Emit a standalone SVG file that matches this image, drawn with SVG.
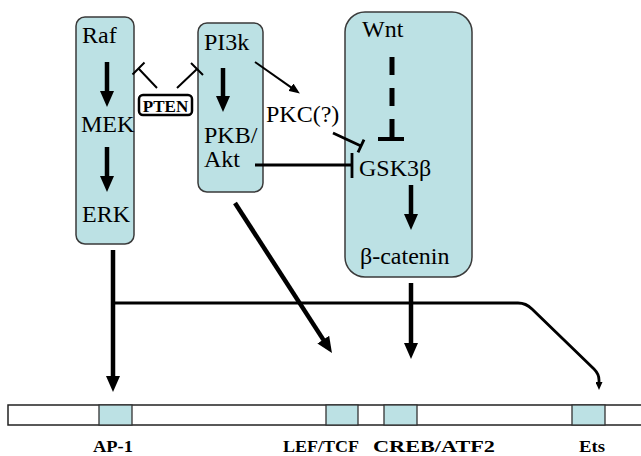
<svg xmlns="http://www.w3.org/2000/svg" width="641" height="456" viewBox="0 0 641 456">
<style>
.box{fill:#BCE1E4;stroke:#3a3a3a;stroke-width:1.5}
.site{fill:#BCE1E4;stroke:#333;stroke-width:1.3}
.lbl{font-family:"Liberation Serif","Times New Roman",serif;font-size:24px;fill:#000}
.blbl{font-family:"Liberation Serif","Times New Roman",serif;font-size:17px;font-weight:bold;fill:#000}
.thick{fill:none;stroke:#000;stroke-width:4.5}
.med{fill:none;stroke:#000;stroke-width:2.8}
.thin{fill:none;stroke:#000;stroke-width:2}
</style>
<defs>
<marker id="ah" viewBox="0 0 16 14" refX="3" refY="7" markerWidth="16" markerHeight="14" markerUnits="userSpaceOnUse" orient="auto">
<path d="M0,0 L16,7 L0,14 Z" fill="#000"/>
</marker>
<marker id="ahs" viewBox="0 0 11 9" refX="2" refY="4.5" markerWidth="11" markerHeight="9" markerUnits="userSpaceOnUse" orient="auto">
<path d="M0,0 L11,4.5 L0,9 Z" fill="#000"/>
</marker>
<marker id="ahe" viewBox="0 0 8 7" refX="1" refY="3.5" markerWidth="8" markerHeight="7" markerUnits="userSpaceOnUse" orient="auto">
<path d="M0,0 L8,3.5 L0,7 Z" fill="#000"/>
</marker>
</defs>

<g id="raf-mek-erk">
<rect class="box" x="76" y="17" width="58" height="227" rx="9"/>
<text class="lbl" x="82" y="43">Raf</text>
<text class="lbl" x="81" y="132">MEK</text>
<text class="lbl" x="82" y="222">ERK</text>
</g>

<g id="pi3k-akt">
<rect class="box" x="198" y="23" width="65" height="169" rx="9"/>
<text class="lbl" x="204" y="50">PI3k</text>
<text class="lbl" x="204" y="143">PKB/</text>
<text class="lbl" x="204" y="167">Akt</text>
</g>

<g id="wnt-gsk-catenin">
<rect class="box" x="345" y="12" width="127" height="265" rx="20"/>
<text class="lbl" x="362" y="37">Wnt</text>
<text class="lbl" x="359" y="176">GSK3β</text>
<text class="lbl" x="360" y="264">β-catenin</text>
</g>

<g id="pkc">
<text class="lbl" x="266" y="122">PKC(?)</text>
</g>

<g id="pten">
<rect x="139" y="95" width="53" height="20" rx="4" fill="#fff" stroke="#000" stroke-width="2.5"/>
<text class="blbl" x="165.5" y="112" text-anchor="middle" font-size="15">PTEN</text>
</g>

<g id="promoter">
<rect x="8" y="405" width="640" height="20" fill="#fff" stroke="#222" stroke-width="1.5"/>
<rect class="site" x="99" y="405" width="33" height="20"/>
<rect class="site" x="326" y="405" width="32" height="20"/>
<rect class="site" x="384" y="405" width="33" height="20"/>
<rect class="site" x="572" y="405" width="33" height="20"/>
</g>

<g id="site-labels">
<text class="blbl" x="93" y="452" textLength="40" lengthAdjust="spacingAndGlyphs">AP-1</text>
<text class="blbl" x="283" y="452" textLength="76" lengthAdjust="spacingAndGlyphs">LEF/TCF</text>
<text class="blbl" x="373" y="452" textLength="122" lengthAdjust="spacingAndGlyphs">CREB/ATF2</text>
<text class="blbl" x="579" y="452" textLength="26" lengthAdjust="spacingAndGlyphs">Ets</text>
</g>

<g id="connectors">
<path class="thick" d="M107,62 V94" marker-end="url(#ah)"/>
<path class="thick" d="M107,147 V179" marker-end="url(#ah)"/>
<path class="thick" d="M223,68 V99" marker-end="url(#ah)"/>
<path class="thick" d="M411,185 V217" marker-end="url(#ah)"/>
<path class="thin" d="M157,88 L139,69 M132.5,74.5 L144.5,62.5"/>
<path class="thin" d="M177,88 L197,69 M191,63 L203,75"/>
<path class="thin" d="M255,62 L292.5,88.4" marker-end="url(#ahs)"/>
<path class="med" d="M333,133 L361,146 M364,139.6 L358,152.4"/>
<path class="med" d="M255,165 H352 M352,153 V178"/>
<path d="M392,57 V137" fill="none" stroke="#000" stroke-width="5" stroke-dasharray="18 13"/>
<path d="M378,139 H404" fill="none" stroke="#000" stroke-width="4"/>
<path class="thick" d="M113,250 V379" marker-end="url(#ah)"/>
<path class="med" d="M113,303 H518 Q526,303 532,309 L594,369 Q599,374 599,380 V383" marker-end="url(#ahe)"/>
<path class="thick" d="M235,203 L324.9,342.1" marker-end="url(#ah)"/>
<path class="thick" d="M411,283 V346" marker-end="url(#ah)"/>
</g>
</svg>
